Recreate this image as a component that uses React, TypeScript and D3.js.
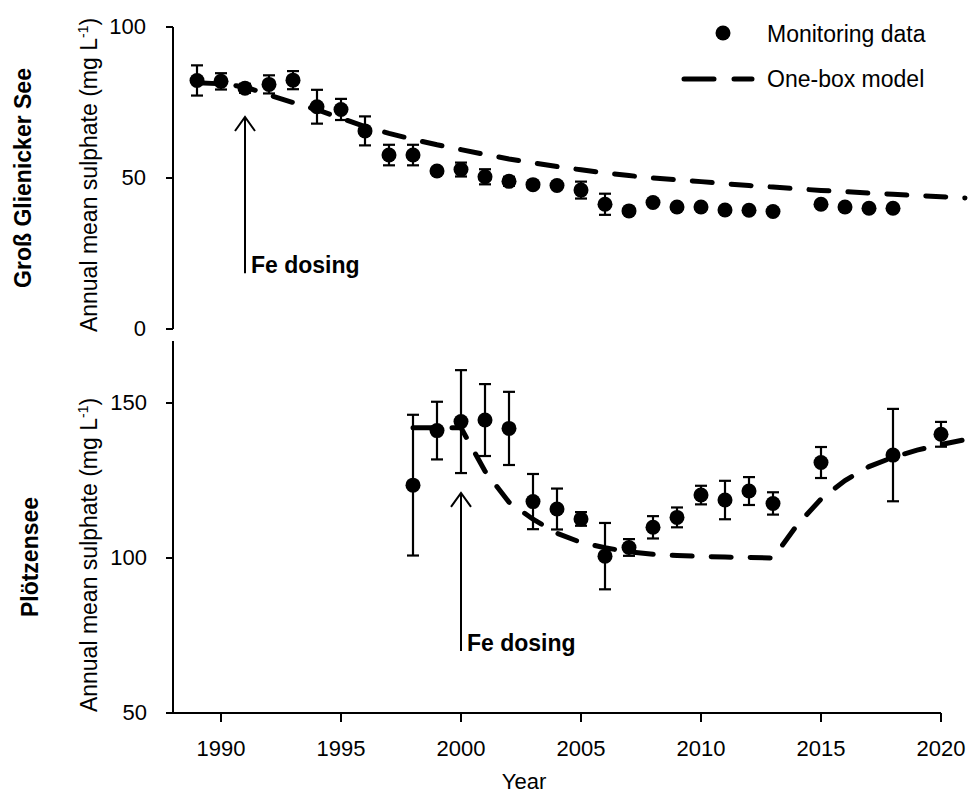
import React from "react";
import * as d3 from "d3";

// ---------- Data ----------
const topYears = [1989, 1990, 1991, 1992, 1993, 1994, 1995, 1996, 1997, 1998, 1999, 2000, 2001, 2002, 2003, 2004, 2005, 2006, 2007, 2008, 2009, 2010, 2011, 2012, 2013, 2015, 2016, 2017, 2018];
const topValues = [82.3, 82.0, 79.7, 81.0, 82.4, 73.6, 72.7, 65.6, 57.6, 57.6, 52.3, 52.8, 50.4, 48.9, 47.8, 47.5, 46.0, 41.3, 39.1, 41.9, 40.4, 40.4, 39.4, 39.3, 38.9, 41.3, 40.4, 40.0, 40.0];
const topErrors = [5.0, 2.7, 1.5, 3.0, 3.0, 5.6, 3.5, 4.8, 3.4, 3.4, 1.0, 2.3, 2.5, 1.5, 1.0, 0.8, 2.8, 3.5, 0.8, 0.8, 0.8, 0.8, 0.8, 0.8, 0.8, 0.8, 0.8, 0.8, 0.8];

const topModelYears = [1989, 1990, 1991, 1992, 1993, 1994, 1995, 1996, 1997, 1998, 1999, 2000, 2001, 2002, 2003, 2004, 2005, 2006, 2007, 2008, 2009, 2010, 2011, 2012, 2013, 2014, 2015, 2016, 2017, 2018, 2019, 2020, 2021];
const topModelValues = [81.5, 81.2, 80.2, 77.5, 75.0, 72.6, 69.8, 67.0, 64.8, 62.8, 61.0, 59.4, 57.8, 56.3, 55.0, 53.8, 52.7, 51.7, 50.8, 50.0, 49.4, 48.8, 48.1, 47.5, 47.0, 46.4, 45.9, 45.5, 45.0, 44.6, 44.2, 43.8, 43.4];

const botYears = [1998, 1999, 2000, 2001, 2002, 2003, 2004, 2005, 2006, 2007, 2008, 2009, 2010, 2011, 2012, 2013, 2015, 2018, 2020];
const botValues = [123.5, 141.1, 144.0, 144.5, 141.8, 118.2, 115.8, 112.6, 100.6, 103.4, 109.9, 113.1, 120.3, 118.7, 121.6, 117.6, 130.8, 133.2, 139.9];
const botErrors = [22.7, 9.3, 16.6, 11.6, 11.8, 8.9, 6.6, 2.2, 10.7, 2.7, 3.6, 3.2, 3.0, 6.2, 4.5, 3.6, 5.0, 14.9, 4.0];

const botModelYears = [1998, 1999, 2000, 2001, 2002, 2003, 2004, 2005, 2006, 2007, 2008, 2009, 2010, 2011, 2012, 2013, 2014, 2015, 2016, 2017, 2018, 2019, 2020, 2021];
const botModelValues = [142, 142, 142, 128, 118, 112.5, 108, 105, 103.3, 102, 101.2, 100.8, 100.5, 100.3, 100.2, 100, 110.6, 119, 125, 129.5, 132.5, 134.8, 136.6, 138.2];

const xTicks = [1990, 1995, 2000, 2005, 2010, 2015, 2020];
const topYTicks = [0, 50, 100];
const botYTicks = [50, 100, 150];

const dosingTop = { year: 1991, from: 70.2, to: 18.5 };
const dosingBot = { year: 2000, from: 121, to: 70 };

const FONT = "'Liberation Sans', Arial, Helvetica, sans-serif";

export default function App() {
  const x = d3.scaleLinear().domain([1988, 2020]).range([173, 941]);
  const yTop = d3.scaleLinear().domain([0, 100]).range([329, 27]);
  const yBot = d3.scaleLinear().domain([50, 170]).range([713, 341]);

  const lineTop = d3
    .line<number>()
    .x((_, i) => x(topModelYears[i]))
    .y((v) => yTop(v));
  const lineBot = d3
    .line<number>()
    .x((_, i) => x(botModelYears[i]))
    .y((v) => yBot(v));

  const renderPoints = (
    years: number[],
    vals: number[],
    errs: number[],
    y: d3.ScaleLinear<number, number>
  ) => (
    <g>
      {years.map((yr, i) => {
        const cx = x(yr);
        const y1 = y(vals[i] + errs[i]);
        const y2 = y(vals[i] - errs[i]);
        return (
          <g key={"e" + yr} stroke="#000" strokeWidth={2.2}>
            <line x1={cx} x2={cx} y1={y1} y2={y2} />
            <line x1={cx - 6} x2={cx + 6} y1={y1} y2={y1} />
            <line x1={cx - 6} x2={cx + 6} y1={y2} y2={y2} />
          </g>
        );
      })}
      {years.map((yr, i) => (
        <circle key={"c" + yr} cx={x(yr)} cy={y(vals[i])} r={7.5} fill="#000" />
      ))}
    </g>
  );

  const arrow = (
    d: { year: number; from: number; to: number },
    y: d3.ScaleLinear<number, number>
  ) => {
    const ax = x(d.year);
    const tip = y(d.from);
    const end = y(d.to);
    return (
      <g stroke="#000" strokeWidth={2} fill="none">
        <line x1={ax} x2={ax} y1={tip} y2={end} />
        <polyline points={`${ax - 10},${tip + 14} ${ax},${tip} ${ax + 10},${tip + 14}`} />
      </g>
    );
  };

  return (
    <svg
      width={968}
      height={797}
      style={{ position: "absolute", left: 0, top: 0, background: "#fff" }}
      fontFamily={FONT}
    >
      <rect width={968} height={797} fill="#fff" />

      {/* ---------- Top panel ---------- */}
      <g>
        <line x1={173} x2={173} y1={yTop(100)} y2={yTop(0)} stroke="#000" strokeWidth={2} />
        {topYTicks.map((t) => (
          <g key={"tt" + t}>
            <line x1={166} x2={173} y1={yTop(t)} y2={yTop(t)} stroke="#000" strokeWidth={2} />
            <text x={146} y={yTop(t) + 7} textAnchor="end" fontSize={22} fill="#000">
              {t}
            </text>
          </g>
        ))}
        <path
          d={lineTop(topModelValues) || ""}
          fill="none"
          stroke="#000"
          strokeWidth={5}
          strokeDasharray="20 19"
          strokeLinecap="round"
        />
        {renderPoints(topYears, topValues, topErrors, yTop)}
        {arrow(dosingTop, yTop)}
        <text x={x(dosingTop.year) + 6} y={yTop(dosingTop.to)} fontSize={23} fontWeight="bold" fill="#000">
          Fe dosing
        </text>
        <text
          transform={`translate(97,175) rotate(-90)`}
          textAnchor="middle"
          fontSize={23}
          fill="#000"
        >
          Annual mean sulphate (mg L
          <tspan fontSize={14} dy={-9}>-1</tspan>
          <tspan dy={9}>)</tspan>
        </text>
        <text
          transform={`translate(31,178) rotate(-90)`}
          textAnchor="middle"
          fontSize={23}
          fontWeight="bold"
          fill="#000"
        >
          Groß Glienicker See
        </text>

        {/* Legend */}
        <circle cx={723} cy={33} r={7.5} fill="#000" />
        <text x={767} y={42} fontSize={23} fill="#000">
          Monitoring data
        </text>
        <line
          x1={684}
          x2={752}
          y1={79}
          y2={79}
          stroke="#000"
          strokeWidth={5}
          strokeDasharray="30 20"
          strokeLinecap="round"
        />
        <text x={767} y={87} fontSize={23} fill="#000">
          One-box model
        </text>
      </g>

      {/* ---------- Bottom panel ---------- */}
      <g>
        <line x1={173} x2={173} y1={yBot(170)} y2={yBot(50)} stroke="#000" strokeWidth={2} />
        {botYTicks.map((t) => (
          <g key={"bt" + t}>
            <line x1={166} x2={173} y1={yBot(t)} y2={yBot(t)} stroke="#000" strokeWidth={2} />
            <text x={147} y={yBot(t) + 7} textAnchor="end" fontSize={22} fill="#000">
              {t}
            </text>
          </g>
        ))}
        <line x1={173} x2={x(2020)} y1={yBot(50)} y2={yBot(50)} stroke="#000" strokeWidth={2} />
        {xTicks.map((t) => (
          <g key={"xt" + t}>
            <line x1={x(t)} x2={x(t)} y1={yBot(50)} y2={yBot(50) + 9} stroke="#000" strokeWidth={2} />
            <text x={x(t)} y={756} textAnchor="middle" fontSize={22} fill="#000">
              {t}
            </text>
          </g>
        ))}
        <text x={524} y={789} textAnchor="middle" fontSize={22} fill="#000">
          Year
        </text>
        <path
          d={lineBot(botModelValues) || ""}
          fill="none"
          stroke="#000"
          strokeWidth={5}
          strokeDasharray="20 19"
          strokeLinecap="round"
        />
        {renderPoints(botYears, botValues, botErrors, yBot)}
        {arrow(dosingBot, yBot)}
        <text x={x(dosingBot.year) + 6} y={yBot(dosingBot.to)} fontSize={23} fontWeight="bold" fill="#000">
          Fe dosing
        </text>
        <text
          transform={`translate(97,555) rotate(-90)`}
          textAnchor="middle"
          fontSize={23}
          fill="#000"
        >
          Annual mean sulphate (mg L
          <tspan fontSize={14} dy={-9}>-1</tspan>
          <tspan dy={9}>)</tspan>
        </text>
        <text
          transform={`translate(38,557) rotate(-90)`}
          textAnchor="middle"
          fontSize={23}
          fontWeight="bold"
          fill="#000"
        >
          Plötzensee
        </text>
      </g>
    </svg>
  );
}
